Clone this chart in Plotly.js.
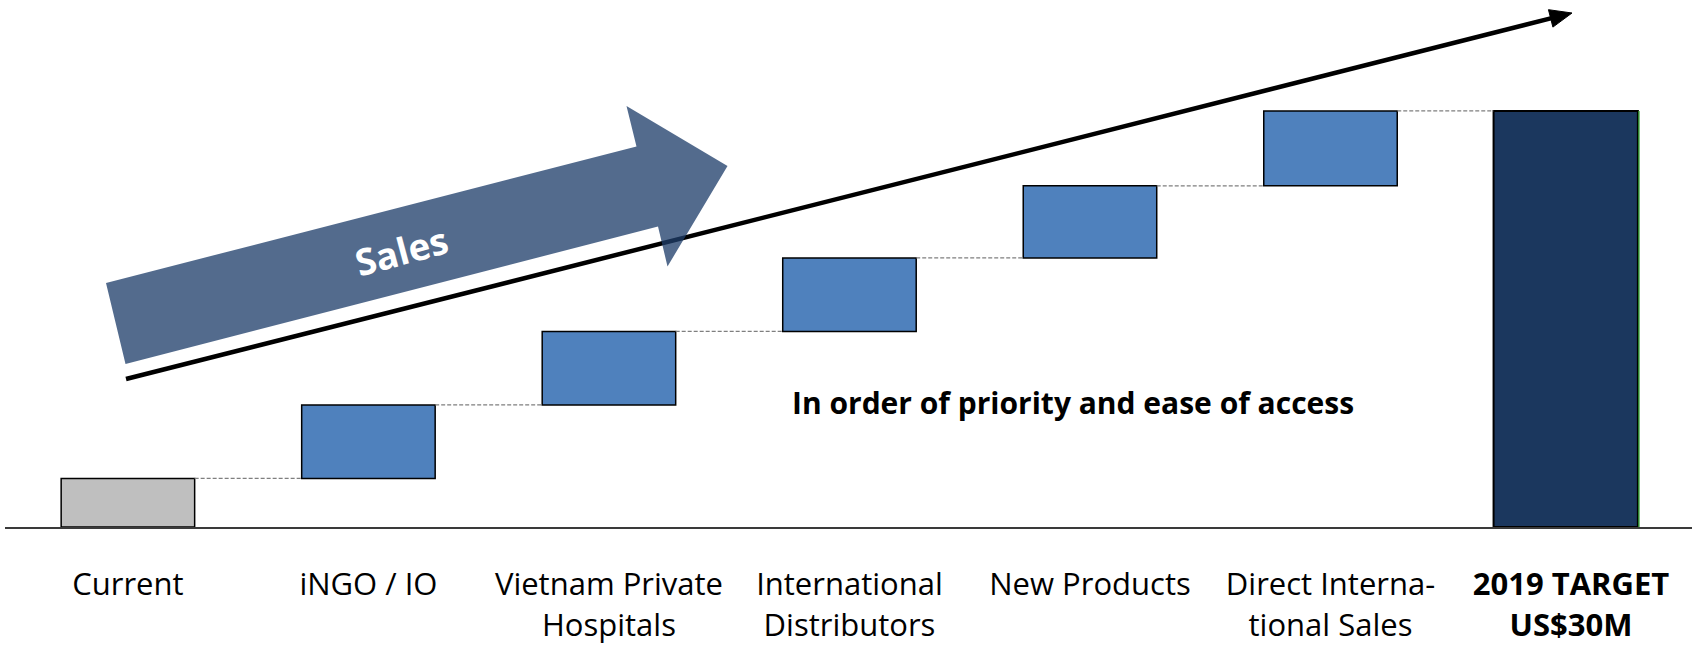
<!DOCTYPE html>
<html>
<head>
<meta charset="utf-8">
<script src="https://cdn.plot.ly/plotly-3.0.1.min.js"></script>
<style>
  html, body { margin: 0; padding: 0; background: #ffffff; }
  #chart { width: 1692px; height: 645px; }
</style>
</head>
<body>
<div id="chart"></div>
<script>
// ---- data ----
var categories = ['Current', 'iNGO / IO', 'Vietnam Private<br>Hospitals', 'International<br>Distributors',
                  'New Products', 'Direct Interna-<br>tional Sales', '<b>2019 TARGET</b><br><b>US$30M</b>'];
var currentValue = [3.5];                       // US$M, current sales
var increments = [5.3, 5.3, 5.3, 5.2, 5.4];     // US$M added by each channel
var targetValue = [30];                         // US$M, 2019 target

// ---- derived (from data) ----
var idx = categories.map(function (_, i) { return i; });
var cum = [currentValue[0]];
increments.forEach(function (v) { cum.push(cum[cum.length - 1] + v); });
var incBase = cum.slice(0, increments.length);
var incX = increments.map(function (_, i) { return i + 1; });
var targetX = [categories.length - 1];

var W = 0.555;      // step bar width (category units)
var WT = 0.6;       // target bar width
var TSHIFT = -0.022; // target bar sits slightly left of its label
var tops = cum.concat([targetValue[0]]);
function leftEdge(i) { return i === targetX[0] ? i - WT / 2 + TSHIFT : i - W / 2; }
function rightEdge(i) { return i === targetX[0] ? i + WT / 2 + TSHIFT : i + W / 2; }

// connectors
var cx = [], cy = [];
for (var i = 0; i < categories.length - 1; i++) {
  cx.push(rightEdge(i), leftEdge(i + 1), null);
  cy.push(tops[i], tops[i], null);
}

var FONT = 'Open Sans, Lato, Liberation Sans, sans-serif';

var traces = [
  { type: 'scatter', mode: 'lines', x: cx, y: cy, hoverinfo: 'skip', showlegend: false,
    line: { color: '#7f7f7f', width: 1.2, dash: '4px,2px' } },
  { type: 'bar', x: [0], y: currentValue, base: [0], width: [W], showlegend: false,
    marker: { color: '#bfbfbf', line: { color: '#000000', width: 1.5 } } },
  { type: 'bar', x: incX, y: increments, base: incBase, width: incX.map(function () { return W; }), showlegend: false,
    marker: { color: '#4f81bd', line: { color: '#000000', width: 1.5 } } },
  { type: 'bar', x: targetX, y: targetValue, base: [0], width: [WT], offset: [-WT / 2 + TSHIFT], showlegend: false,
    marker: { color: '#1b375e', line: { color: '#000000', width: 2 } } }
];

// ---- decoration geometry (pixel -> paper) ----
var ML = 5, MR = 0, MT = 0, MB = 118, FW = 1692, FH = 645;
var PW = FW - ML - MR, PH = FH - MT - MB;
function px(x) { return (x - ML) / PW; }
function py(y) { return (FH - MB - y) / PH; }

// trend line with arrowhead
var t0 = [126, 379], t1 = [1572, 13];
var dx = t1[0] - t0[0], dy = t1[1] - t0[1], L = Math.sqrt(dx * dx + dy * dy);
var ux = dx / L, uy = dy / L, nx = -uy, ny = ux;
var HL = 22, HW = 9;
var bc = [t1[0] - HL * ux, t1[1] - HL * uy];
var h1 = [bc[0] + HW * nx, bc[1] + HW * ny], h2 = [bc[0] - HW * nx, bc[1] - HW * ny];

// block "Sales" arrow
var sales = [[106, 283], [636.5, 146.5], [626.5, 106], [727.5, 166], [667.5, 266.5], [658, 226.5], [125.5, 364]];
var salesPath = sales.map(function (p, k) { return (k ? 'L' : 'M') + px(p[0]).toFixed(5) + ',' + py(p[1]).toFixed(5); }).join(' ') + ' Z';
var headPath = 'M' + px(t1[0]) + ',' + py(t1[1]) + ' L' + px(h1[0]) + ',' + py(h1[1]) + ' L' + px(h2[0]) + ',' + py(h2[1]) + ' Z';

var shapes = [
  { type: 'line', xref: 'paper', yref: 'paper', x0: px(t0[0]), y0: py(t0[1]), x1: px(bc[0] + 2 * ux), y1: py(bc[1] + 2 * uy),
    line: { color: '#000000', width: 4.5 } },
  { type: 'path', xref: 'paper', yref: 'paper', path: headPath, fillcolor: '#000000', line: { color: '#000000', width: 1 } },
  { type: 'path', xref: 'paper', yref: 'paper', path: salesPath, fillcolor: 'rgba(31,62,107,0.77)', line: { width: 0 } },
  { type: 'line', xref: 'x', yref: 'y', x0: rightEdge(targetX[0]) + 0.004, x1: rightEdge(targetX[0]) + 0.004, y0: 0, y1: targetValue[0],
    line: { color: '#2e8b2e', width: 1.5 } }
];

var annotations = [
  { xref: 'paper', yref: 'paper', x: px(401), y: py(250), text: '<b>Sales</b>', showarrow: false, textangle: -15,
    font: { family: FONT, size: 37, color: '#ffffff' }, xanchor: 'center', yanchor: 'middle' },
  { xref: 'paper', yref: 'paper', x: px(1073), y: py(402), text: '<b>In order of priority and ease of access</b>', showarrow: false,
    font: { family: FONT, size: 30, color: '#000000' }, xanchor: 'center', yanchor: 'middle' }
];

var layout = {
  width: FW, height: FH,
  margin: { l: ML, r: MR, t: MT, b: MB, pad: 0 },
  paper_bgcolor: '#ffffff', plot_bgcolor: '#ffffff',
  barmode: 'overlay',
  showlegend: false,
  font: { family: FONT, size: 31, color: '#000000' },
  xaxis: {
    range: [-0.511, 6.503], tickmode: 'array', tickvals: idx, ticktext: categories,
    showline: true, linecolor: '#3a3a3a', linewidth: 2, showgrid: false, zeroline: false,
    ticks: '', ticklabelstandoff: 29, tickfont: { family: FONT, size: 31, color: '#000000' }, fixedrange: true
  },
  yaxis: { range: [0, 38], visible: false, showgrid: false, zeroline: false, fixedrange: true },
  shapes: shapes,
  annotations: annotations
};

Plotly.newPlot('chart', traces, layout, { displayModeBar: false, staticPlot: true });
</script>
</body>
</html>
